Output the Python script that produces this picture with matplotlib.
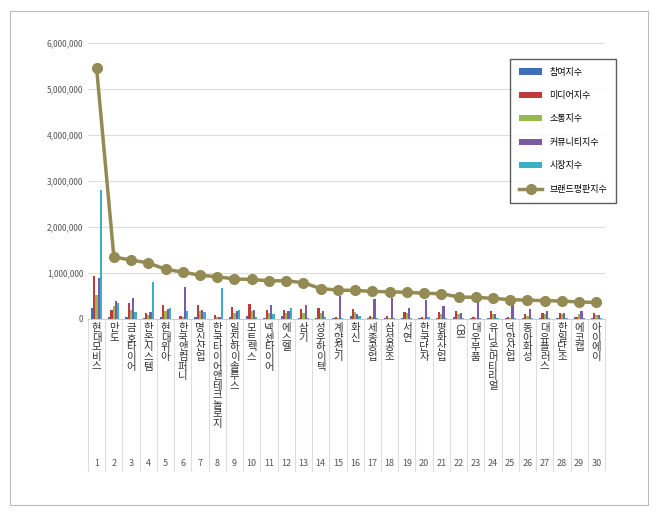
import numpy as np
import matplotlib.pyplot as plt
from matplotlib.patches import Rectangle

plt.rcParams['font.family'] = ['Noto Sans CJK KR', 'DejaVu Sans']

names = ['현대모비스', '만도', '금호타이어', '한온시스템', '현대위아', '한국앤컴퍼니', '명신산업',
         '한국타이어앤테크놀로지', '일진하이솔루스', '모트렉스', '넥센타이어', '에스엘', '삼기', '성우하이텍',
         '계양전기', '화신', '세종공업', '삼성공조', '서연', '한국단자', '평화산업', 'CBI', '대우부품',
         '유니온머티리얼', '덕양산업', '동아화성', '대유플러스', '한일단조', '에코캡', '아이에이']
part = [250, 50, 50, 20, 50, 10, 50, 10, 50, 70, 30, 60, 30, 30, 20, 60, 20, 20, 30, 20,
        30, 40, 20, 30, 20, 30, 30, 30, 40, 30]
media = [930, 200, 350, 120, 300, 60, 300, 80, 270, 330, 200, 200, 220, 230, 50, 220, 70, 60, 150, 40,
         150, 170, 50, 170, 40, 100, 140, 140, 50, 130]
comm = [520, 280, 200, 80, 180, 40, 180, 40, 140, 180, 120, 120, 140, 120, 30, 150, 40, 30, 120, 30,
        100, 100, 30, 100, 20, 60, 100, 100, 100, 80]
cmty = [900, 400, 450, 150, 220, 700, 200, 50, 180, 200, 300, 180, 300, 170, 500, 100, 430, 450, 250, 420,
        280, 130, 380, 100, 300, 220, 180, 120, 180, 90]
market = [2800, 350, 150, 800, 250, 170, 150, 680, 200, 50, 100, 250, 20, 50, 20, 60, 20, 20, 20, 40,
          20, 30, 20, 20, 20, 20, 20, 20, 20, 20]
brand = [5450, 1350, 1280, 1220, 1080, 1020, 950, 920, 870, 860, 830, 830, 790, 660, 630, 620, 600, 590,
         580, 560, 550, 480, 470, 450, 420, 410, 400, 390, 370, 360]

series = [('참여지수', part, '#3f6fb5'), ('미디어지수', media, '#c0393b'), ('소통지수', comm, '#97b94c'),
          ('커뮤니티지수', cmty, '#7a5ba6'), ('시장지수', market, '#3aafc8')]

fig = plt.figure(figsize=(6.6, 5.16), dpi=100)
fig.patches.append(Rectangle((10 / 660, 11 / 516), 638 / 660, 494 / 516, transform=fig.transFigure,
                             fill=False, edgecolor='#bbbbbb', lw=0.8))
ax = fig.add_axes([88 / 660, 1 - 319 / 516, 517 / 660, 276 / 516])

x = np.arange(1, 31)
w = 0.13
for i, (lab, vals, col) in enumerate(series):
    ax.bar(x + (i - 2) * w, np.array(vals) * 1000, w, color=col, label=lab, zorder=2)
ax.plot(x, np.array(brand) * 1000, color='#948a54', lw=2.5, marker='o', ms=7, label='브랜드평판지수', zorder=3)

ax.set_xlim(0.5, 30.5)
ax.set_ylim(0, 6000000)
ax.set_yticks(np.arange(0, 6000001, 1000000))
ax.set_yticklabels([f'{v:,}' for v in range(0, 6000001, 1000000)], fontsize=6, color='#555555')
ax.grid(axis='y', color='#dddddd', lw=0.8, zorder=0)
for s in ['top', 'right', 'left']:
    ax.spines[s].set_visible(False)
ax.spines['bottom'].set_color('#cccccc')
ax.tick_params(axis='y', length=0)
ax.set_xticks(x)
ax.set_xticklabels([str(i) for i in x], fontsize=6.5, color='#555555')
ax.tick_params(axis='x', length=0, pad=101)

for i, n in enumerate(names):
    if n.isascii():
        ax.text(x[i], -0.015, n, transform=ax.get_xaxis_transform(), ha='center', va='top',
                rotation=270, fontsize=7, color='#333333')
    else:
        ax.text(x[i], -0.015, '\n'.join(n), transform=ax.get_xaxis_transform(), ha='center', va='top',
                fontsize=7.5, linespacing=0.95, color='#333333')
for b in np.arange(0.5, 31, 1):
    ax.plot([b, b], [0, -0.55], transform=ax.get_xaxis_transform(), color='#dddddd', lw=0.8, clip_on=False)

h, l = ax.get_legend_handles_labels()
h = h[1:] + h[:1]
l = l[1:] + l[:1]
leg = ax.legend(h, l, loc='upper right', bbox_to_anchor=(1.03, 0.96), fontsize=6.5, frameon=True,
                labelspacing=1.6, borderpad=1.0, handlelength=2.5, fancybox=False)
leg.get_frame().set_edgecolor('#333333')
fig.savefig('out.png', dpi=100)
